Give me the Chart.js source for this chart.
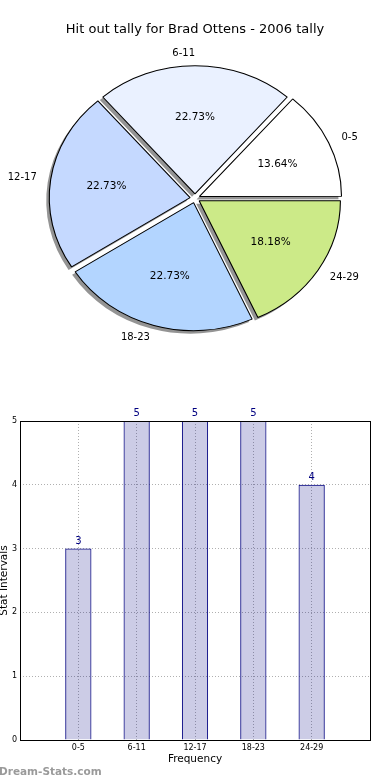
<!DOCTYPE html>
<html>
<head>
<meta charset="utf-8">
<script src="https://cdn.jsdelivr.net/npm/chart.js@4.4.0/dist/chart.umd.min.js"></script>
<style>
    html, body { margin: 0; padding: 0; background: #fff; }
    body { width: 390px; height: 780px; position: relative; overflow: hidden; }
    #pieBox { position: absolute; left: 0; top: 0; width: 390px; height: 370px; }
    #barBox { position: absolute; left: 0; top: 370px; width: 390px; height: 410px; }
</style>
</head>
<body>
<div id="pieBox"><canvas id="pieChart"></canvas></div>
<div id="barBox"><canvas id="barChart"></canvas></div>
<script>
const chartTitle = 'Hit out tally for Brad Ottens - 2006 tally';
const intervals = ['0-5', '6-11', '12-17', '18-23', '24-29'];
const tallies = [3, 5, 5, 5, 4];
const sliceColors = ['#ffffff', '#eaf1ff', '#c5d9ff', '#b3d5ff', '#ccea88'];
const xTitle = 'Frequency';
const yTitle = 'Stat Intervals';
const watermark = 'Dream-Stats.com';

const FONT = '"DejaVu Sans", sans-serif';
Chart.defaults.font.family = FONT;
Chart.defaults.color = '#000';

const stretchX = 1.10; // the original pie is a bit wider than tall
const total = tallies.reduce((a, b) => a + b, 0);

// matplotlib goes counter-clockwise from 3 o'clock, chart.js clockwise
const pieLabels = intervals.slice().reverse();
const pieData = tallies.slice().reverse();
const pieColors = sliceColors.slice().reverse();

function sliceShift(arc) {
    // same push ArcElement.draw applies for options.offset
    const circ = arc.endAngle - arc.startAngle;
    const off = (arc.options.offset || 0) / 4;
    return off * (2 - Math.sin(Math.min(Math.PI, circ)));
}

const ovalPie = {
    id: 'ovalPie',
    beforeDatasetsDraw(chart) {
        const arc = chart.getDatasetMeta(0).data[0];
        const ctx = chart.ctx;
        ctx.save();
        ctx.translate(arc.x, arc.y);
        ctx.scale(stretchX, 1);
        ctx.translate(-arc.x, -arc.y);
        ctx.shadowColor = 'rgba(0,0,0,0.42)';
        ctx.shadowOffsetX = -3;
        ctx.shadowOffsetY = 3;
        ctx.shadowBlur = 0;
        // shadow only under the fill, not the outline
        const plainStroke = CanvasRenderingContext2D.prototype.stroke;
        ctx.stroke = function(...args) {
            this.save();
            this.shadowColor = 'rgba(0,0,0,0)';
            plainStroke.apply(this, args);
            this.restore();
        };
    },
    afterDatasetsDraw(chart) {
        const ctx = chart.ctx;
        delete ctx.stroke;
        ctx.restore();
        ctx.save();
        ctx.fillStyle = '#000';
        ctx.textBaseline = 'middle';
        chart.getDatasetMeta(0).data.forEach((arc, i) => {
            const mid = (arc.startAngle + arc.endAngle) / 2;
            const cos = Math.cos(mid), sin = Math.sin(mid);
            const r = arc.outerRadius;
            const push = sliceShift(arc);
            const at = k => [arc.x + (k * r + push) * cos * stretchX, arc.y + (k * r + push) * sin];
            const [px, py] = at(0.6);
            ctx.font = '10.5px ' + FONT;
            ctx.textAlign = 'center';
            ctx.fillText((pieData[i] / total * 100).toFixed(2) + '%', px, py);
            const [lx, ly] = at(1.1);
            ctx.font = '10px ' + FONT;
            ctx.textAlign = cos > 0.001 ? 'left' : 'right';
            ctx.fillText(pieLabels[i], lx, ly);
        });
        ctx.restore();
    }
};

new Chart(document.getElementById('pieChart'), {
    type: 'pie',
    data: {
        labels: pieLabels,
        datasets: [{
            data: pieData,
            backgroundColor: pieColors,
            borderColor: '#000',
            borderWidth: 1,
            offset: 18,
            radius: 128
        }]
    },
    options: {
        responsive: true,
        maintainAspectRatio: false,
        animation: false,
        events: [],
        rotation: 90,
        layout: { padding: { bottom: 21 } },
        plugins: {
            legend: { display: false },
            tooltip: { enabled: false },
            title: {
                display: true,
                text: chartTitle,
                color: '#000',
                font: { size: 13, weight: 'normal' },
                padding: { top: 22, bottom: 10 }
            }
        }
    },
    plugins: [ovalPie]
});

// bar chart
const barPoints = tallies.map((v, i) => ({ x: i, y: v }));

const barExtras = {
    id: 'barExtras',
    afterDatasetsDraw(chart) {
        const ctx = chart.ctx;
        ctx.save();
        ctx.font = '10px ' + FONT;
        ctx.fillStyle = '#000080';
        ctx.textAlign = 'center';
        ctx.textBaseline = 'alphabetic';
        chart.getDatasetMeta(0).data.forEach((bar, i) => {
            ctx.fillText(String(tallies[i]), bar.x, bar.y - 5);
        });
        ctx.restore();
    },
    afterDraw(chart) {
        const ctx = chart.ctx;
        const a = chart.chartArea;
        ctx.save();
        ctx.strokeStyle = '#000';
        ctx.lineWidth = 1;
        ctx.strokeRect(a.left + 0.5, a.top + 0.5, a.right - a.left, a.bottom - a.top);
        ctx.font = 'bold 10.5px ' + FONT;
        ctx.fillStyle = '#9a9a9a';
        ctx.textAlign = 'left';
        ctx.textBaseline = 'alphabetic';
        ctx.fillText(watermark, -1, 405);
        ctx.restore();
    }
};

new Chart(document.getElementById('barChart'), {
    type: 'bar',
    data: {
        datasets: [{
            data: barPoints,
            backgroundColor: 'rgba(0,0,128,0.2)',
            borderColor: '#000080',
            borderWidth: 1,
            barPercentage: 0.45,
            categoryPercentage: 1
        }]
    },
    options: {
        responsive: true,
        maintainAspectRatio: false,
        animation: false,
        events: [],
        layout: { padding: { top: 51, right: 20, left: 0, bottom: 0 } },
        plugins: {
            legend: { display: false },
            tooltip: { enabled: false }
        },
        scales: {
            x: {
                type: 'linear',
                min: -1,
                max: 5,
                offset: false,
                z: 1,
                afterFit: s => { s.height = 40; },
                grid: { offset: false, color: '#b0b0b0', lineWidth: 1, drawTicks: false },
                border: { display: false, dash: [1, 2] },
                ticks: {
                    stepSize: 1,
                    padding: 3,
                    maxRotation: 0,
                    autoSkip: false,
                    font: { size: 8 },
                    callback: v => intervals[v] || ''
                },
                title: {
                    display: true,
                    text: xTitle,
                    font: { size: 10.5 },
                    padding: { top: 0, bottom: 14 }
                }
            },
            y: {
                min: 0,
                max: 5,
                z: 1,
                afterFit: s => { s.width = 20; },
                grid: { color: '#b0b0b0', lineWidth: 1, drawTicks: false },
                border: { display: false, dash: [1, 2] },
                ticks: { stepSize: 1, padding: 3, font: { size: 8 } },
                title: {
                    display: true,
                    text: yTitle,
                    font: { size: 10.5 },
                    padding: { top: -2, bottom: 0 }
                }
            }
        }
    },
    plugins: [barExtras]
});
</script>
</body>
</html>
